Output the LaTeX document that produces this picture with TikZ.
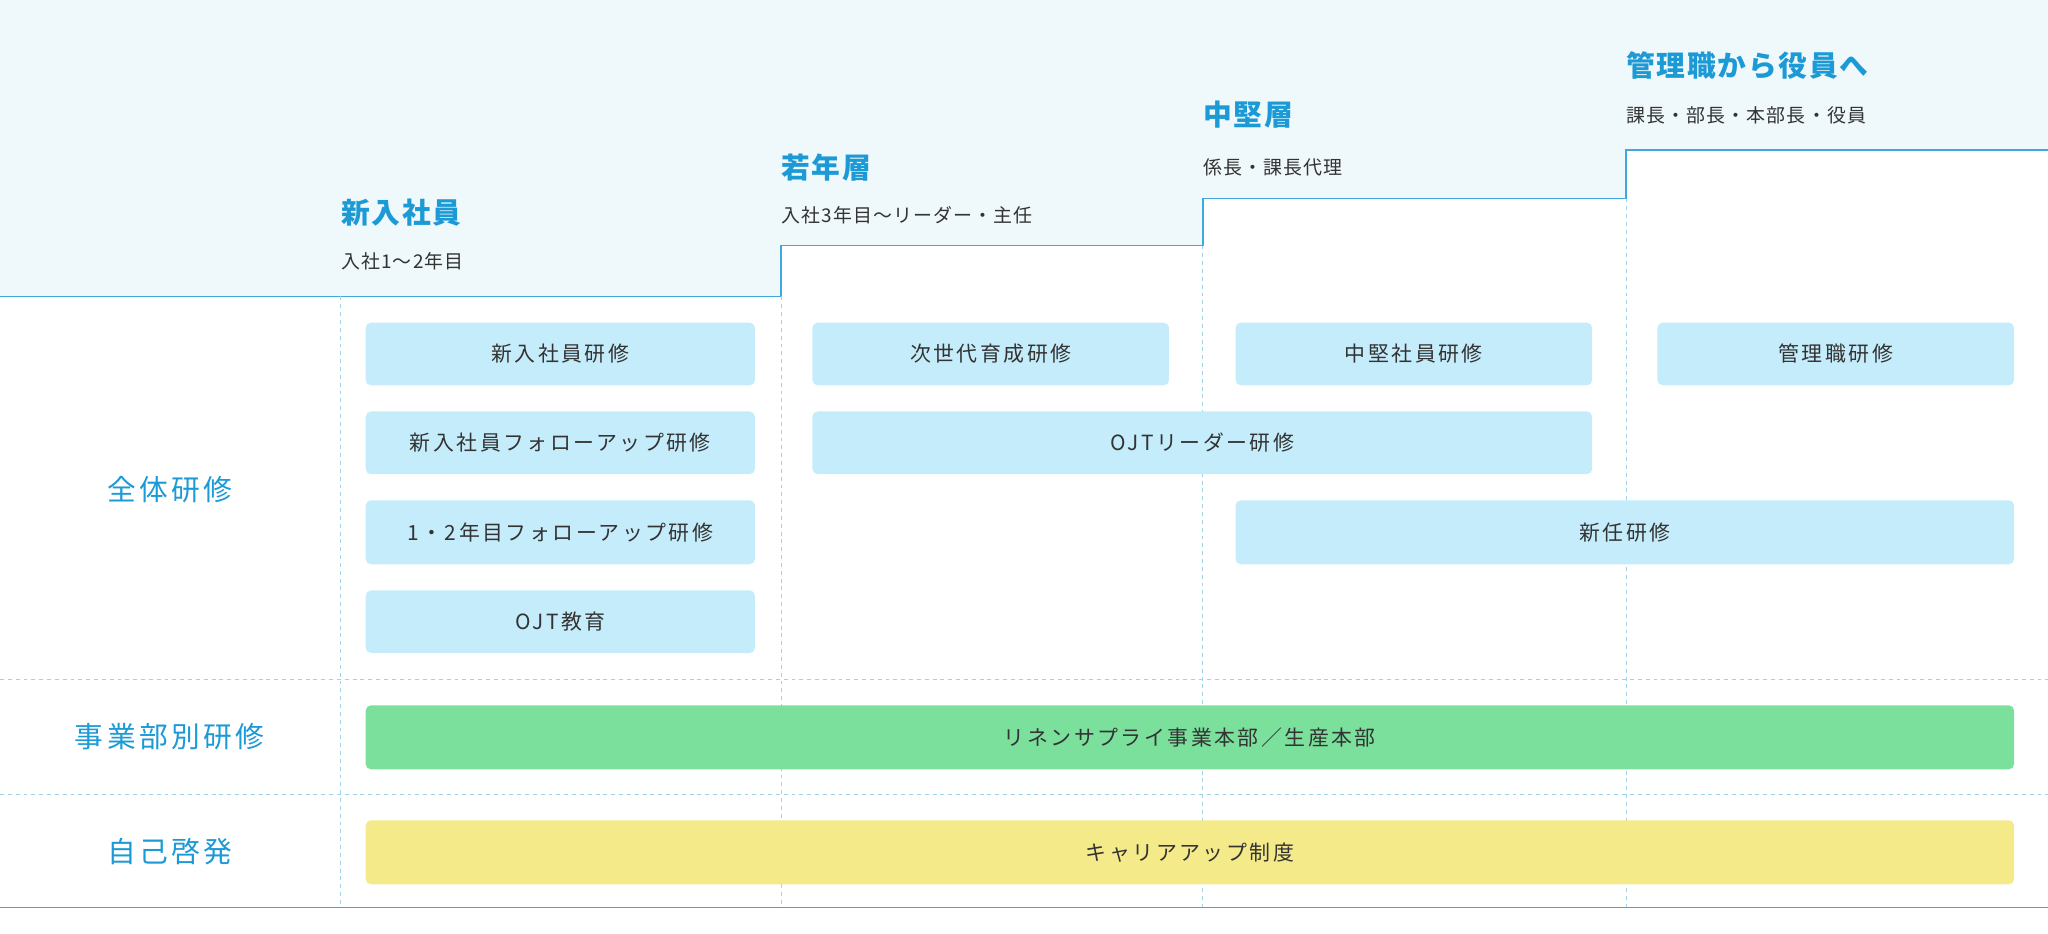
\documentclass[tikz,border=0pt]{standalone}
\usepackage{fontspec}
\setmainfont{Noto Sans CJK JP}[LetterSpace=12]
\newfontfamily\hdfont{Noto Sans CJK JP}[LetterSpace=6]
\definecolor{bgtop}{HTML}{EFF8FB}
\definecolor{lineblue}{HTML}{3FA9DE}
\definecolor{dashc}{HTML}{9ED3EA}
\definecolor{ttl}{HTML}{1C9AD6}
\definecolor{boxb}{HTML}{C5ECFB}
\definecolor{boxg}{HTML}{7BE09B}
\definecolor{boxy}{HTML}{F5EA8A}
\definecolor{txt}{HTML}{333333}
\begin{document}
\begin{tikzpicture}[x=1pt,y=-1pt,
  dl/.style={draw=dashc,dashed,line width=0.8pt},
  bx/.style={rounded corners=4pt,fill=#1,draw=none,text=txt,font=\fontsize{16}{16}\selectfont},
  hd/.style={anchor=west,text=ttl,font=\hdfont\bfseries\fontsize{22}{22}\selectfont,inner sep=0},
  sb/.style={anchor=west,text=txt,font=\hdfont\fontsize{14.5}{14.5}\selectfont,inner sep=0},
  lb/.style={text=ttl,font=\fontsize{22}{22}\selectfont}]
\useasboundingbox (0,0) rectangle (1568,715);
\fill[bgtop] (0,0) -- (1568,0) -- (1568,115) -- (1245,115) -- (1245,152) -- (921,152) -- (921,188) -- (598,188) -- (598,227) -- (0,227) -- cycle;
\draw[lineblue,line width=1.2pt] (0,227) -- (598,227) -- (598,188) -- (921,188) -- (921,152) -- (1245,152) -- (1245,115) -- (1568,115);
\foreach \x/\y in {261/227,598/227,921/188,1245/152}{\draw[dl] (\x,\y) -- (\x,695);}
\draw[dl] (0,520) -- (1568,520);
\draw[dl] (0,608) -- (1568,608);
\draw[lineblue,line width=0.8pt] (0,695) -- (1568,695);
\node[hd] (h1) at (261,163) {新入社員};
\node[sb] (s1) at (261,200) {入社1〜2年目};
\node[hd] (h2) at (598,128) {若年層};
\node[sb] (s2) at (598,165) {入社3年目〜リーダー・主任};
\node[hd] (h3) at (921,88) {中堅層};
\node[sb] (s3) at (921,128) {係長・課長代理};
\node[hd] (h4) at (1245,50) {管理職から役員へ};
\node[sb] (s4) at (1245,88) {課長・部長・本部長・役員};
\node[lb] (l1) at (130,375) {全体研修};
\node[lb] (l2) at (130,564) {事業部別研修};
\node[lb] (l3) at (130,652) {自己啓発};
\newcommand\bxx[6]{\fill[#6,rounded corners=4pt] (#1,#2) rectangle (#3,#4); \node[text=txt,font=\fontsize{16}{16}\selectfont] at ({(#1+#3)/2},{(#2+#4)/2}) {#5};}
\bxx{280}{247}{578}{295}{新入社員研修}{boxb}
\bxx{280}{315}{578}{363}{新入社員フォローアップ研修}{boxb}
\bxx{280}{383}{578}{432}{1・2年目フォローアップ研修}{boxb}
\bxx{280}{452}{578}{500}{OJT教育}{boxb}
\bxx{622}{247}{895}{295}{次世代育成研修}{boxb}
\bxx{946}{247}{1219}{295}{中堅社員研修}{boxb}
\bxx{1269}{247}{1542}{295}{管理職研修}{boxb}
\bxx{622}{315}{1219}{363}{OJTリーダー研修}{boxb}
\bxx{946}{383}{1542}{432}{新任研修}{boxb}
\bxx{280}{540}{1542}{589}{リネンサプライ事業本部／生産本部}{boxg}
\bxx{280}{628}{1542}{677}{キャリアアップ制度}{boxy}
\end{tikzpicture}
\end{document}
